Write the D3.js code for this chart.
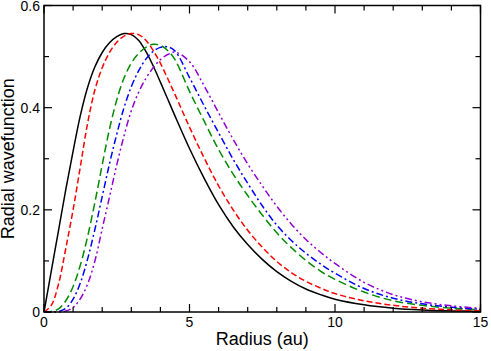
<!DOCTYPE html>
<meta charset="utf-8">
<style>
  body { margin: 0; background: #fff; }
  .tick-label { font-family: "Liberation Sans", Arial, sans-serif; font-size: 14px; }
  .axis-title { font-family: "Liberation Sans", Arial, sans-serif; font-size: 18px; }
  .curve { fill: none; stroke-width: 1.5; }
</style>
<svg width="491" height="351"></svg>
<script src="https://d3js.org/d3.v7.min.js"></script>
<script>
// Data
var radius = [0, 0.25, 0.5, 0.75, 1, 1.25, 1.5, 1.75, 2, 2.25, 2.5, 2.75, 3, 3.25, 3.5, 3.75, 4, 4.25, 4.5, 5, 5.5, 6, 6.5, 7, 7.5, 8, 8.5, 9, 9.5, 10, 11, 12, 13, 14, 15];
var blackVals  = [0, 0.08, 0.16, 0.24, 0.315, 0.385, 0.44, 0.48, 0.508, 0.527, 0.539, 0.545, 0.543, 0.532, 0.51, 0.482, 0.45, 0.417, 0.384, 0.32, 0.262, 0.21, 0.167, 0.132, 0.103, 0.079, 0.06, 0.045, 0.034, 0.025, 0.014, 0.0075, 0.004, 0.0022, 0.0012];
var redVals    = [0, 0.013, 0.055, 0.125, 0.2, 0.285, 0.37, 0.435, 0.478, 0.508, 0.528, 0.54, 0.545, 0.543, 0.532, 0.512, 0.487, 0.457, 0.426, 0.362, 0.302, 0.247, 0.2, 0.16, 0.127, 0.099, 0.077, 0.06, 0.047, 0.036, 0.022, 0.013, 0.0075, 0.0045, 0.0025];
var greenVals  = [0, 0.001, 0.006, 0.022, 0.05, 0.092, 0.148, 0.215, 0.288, 0.358, 0.415, 0.458, 0.487, 0.506, 0.518, 0.524, 0.522, 0.512, 0.494, 0.432, 0.374, 0.318, 0.27, 0.228, 0.19, 0.155, 0.126, 0.101, 0.08, 0.064, 0.039, 0.022, 0.013, 0.0075, 0.0045];
var blueVals   = [0, 0, 0.001, 0.007, 0.025, 0.057, 0.104, 0.162, 0.226, 0.29, 0.348, 0.4, 0.441, 0.472, 0.495, 0.51, 0.518, 0.519, 0.511, 0.459, 0.404, 0.351, 0.299, 0.252, 0.208, 0.17, 0.14, 0.115, 0.094, 0.076, 0.046, 0.027, 0.016, 0.0095, 0.0055];
var purpleVals = [0, 0, 0, 0.002, 0.009, 0.026, 0.055, 0.1, 0.163, 0.225, 0.288, 0.345, 0.394, 0.43, 0.457, 0.478, 0.494, 0.504, 0.509, 0.49, 0.443, 0.39, 0.338, 0.29, 0.247, 0.207, 0.172, 0.142, 0.117, 0.095, 0.058, 0.034, 0.02, 0.012, 0.007];

var xTicks = [0, 5, 10, 15];
var yTicks = [0, 0.2, 0.4, 0.6];

var series = [
  { vals: blackVals,  color: "#000000", dash: null },
  { vals: redVals,    color: "#ff0000", dash: "6,3" },
  { vals: greenVals,  color: "#008b00", dash: "8,4" },
  { vals: blueVals,   color: "#0000ff", dash: "7,3,2,3" },
  { vals: purpleVals, color: "#9400d3", dash: "7,3,2,3,2,3" }
];

var svg = d3.select("svg");
var mLeft = 44, mRight = 480.5, mTop = 5.5, mBottom = 312;

var x = d3.scaleLinear().domain([0, 15]).range([mLeft, mRight]);
var y = d3.scaleLinear().domain([0, 0.6]).range([mBottom, mTop]);

// curves
var line = d3.line()
    .x(function (d) { return x(d[0]); })
    .y(function (d) { return y(d[1]); })
    .curve(d3.curveCatmullRom.alpha(0.5));

var plot = svg.append("g");
series.forEach(function (s) {
  plot.append("path")
      .attr("class", "curve")
      .attr("stroke", s.color)
      .attr("stroke-dasharray", s.dash)
      .attr("d", line(radius.map(function (r, i) { return [r, s.vals[i]]; })));
});

// frame
svg.append("rect")
    .attr("x", mLeft).attr("y", mTop)
    .attr("width", mRight - mLeft).attr("height", mBottom - mTop)
    .attr("fill", "none").attr("stroke", "#000").attr("stroke-width", 1.5);

// ticks (inward, on all four sides)
var xMinor = d3.range(0, 15.01, 1);
var yMinor = d3.range(0, 0.601, 0.1);
var g = svg.append("g").attr("stroke", "#000").attr("stroke-width", 1.2);
xMinor.forEach(function (v) {
  var len = xTicks.indexOf(Math.round(v)) >= 0 ? 8 : 5;
  g.append("line").attr("x1", x(v)).attr("x2", x(v)).attr("y1", mBottom).attr("y2", mBottom - len);
  g.append("line").attr("x1", x(v)).attr("x2", x(v)).attr("y1", mTop).attr("y2", mTop + len);
});
yMinor.forEach(function (v) {
  var major = Math.abs(v * 5 - Math.round(v * 5)) < 1e-6;
  var len = major ? 8 : 5;
  g.append("line").attr("x1", mLeft).attr("x2", mLeft + len).attr("y1", y(v)).attr("y2", y(v));
  g.append("line").attr("x1", mRight).attr("x2", mRight - len).attr("y1", y(v)).attr("y2", y(v));
});

// tick labels
svg.selectAll(".xl").data(xTicks).enter().append("text")
    .attr("class", "tick-label")
    .attr("x", function (d) { return x(d); })
    .attr("y", mBottom + 15)
    .attr("text-anchor", "middle")
    .text(function (d) { return d; });
svg.selectAll(".yl").data(yTicks).enter().append("text")
    .attr("class", "tick-label")
    .attr("x", mLeft - 4)
    .attr("y", function (d) { return y(d) + 5; })
    .attr("text-anchor", "end")
    .text(function (d) { return d === 0 ? "0" : d.toFixed(1); });

// axis titles
svg.append("text")
    .attr("class", "axis-title")
    .attr("x", (mLeft + mRight) / 2)
    .attr("y", 345)
    .attr("text-anchor", "middle")
    .text("Radius (au)");
svg.append("text")
    .attr("class", "axis-title")
    .attr("transform", "translate(14," + (mTop + mBottom) / 2 + ") rotate(-90)")
    .attr("text-anchor", "middle")
    .text("Radial wavefunction");
</script>
